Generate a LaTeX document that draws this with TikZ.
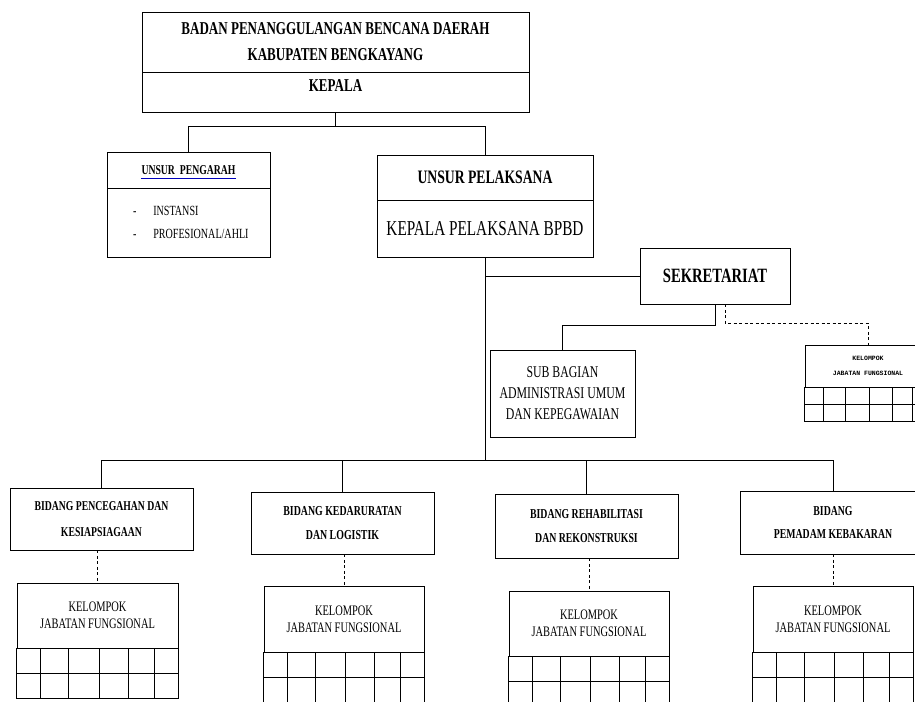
\documentclass[tikz,border=0pt]{standalone}
\usepackage{fontspec}
\setmainfont{Liberation Serif}[FakeStretch=0.72]
\newfontfamily\monofont{Liberation Mono}
\usetikzlibrary{calc}

\tikzset{
  box/.style={draw, line width=0.8pt, inner sep=0pt, align=center},
  link/.style={line width=0.8pt},
  dashlink/.style={line width=0.8pt, dash pattern=on 3pt off 2.5pt},
  gridline/.style={line width=0.8pt}
}

\begin{document}
\begin{tikzpicture}[x=1pt,y=-1pt]
  \useasboundingbox (0,0) rectangle (915,701);

  % kepala
  \node[box, minimum width=387pt, minimum height=60pt, font=\bfseries\fontsize{18.1}{26}\selectfont] (badan) at (335.5,42) {BADAN PENANGGULANGAN BENCANA DAERAH\\KABUPATEN BENGKAYANG};
  \node[box, minimum width=387pt, minimum height=40pt, text depth=12pt, font=\bfseries\fontsize{18.1}{26}\selectfont] (kepala) at (335.5,92) {KEPALA};

  % unsur pengarah
  \node[box, minimum width=163pt, minimum height=36pt] (pengarah) at (188.5,170) {};
  \node[inner sep=0pt, font=\bfseries\fontsize{13.5}{16}\selectfont] (pengtxt) at (pengarah.center) {UNSUR\ \ PENGARAH};
  \draw[blue!75!black, line width=0.9pt] ($(pengtxt.base west)+(0,4)$) -- ($(pengtxt.base east)+(0,4)$);
  \node[box, minimum width=163pt, minimum height=69pt, text width=140pt, align=left, font=\fontsize{14}{23}\selectfont] (ahli) at (188.5,222.5) {\hspace*{14.5pt}-\hspace{17pt}INSTANSI\\\hspace*{14.5pt}-\hspace{17pt}PROFESIONAL/AHLI};

  % unsur pelaksana
  \node[box, minimum width=216pt, minimum height=45pt, font=\bfseries\fontsize{19}{22}\selectfont] (pelaksana) at (485,177.5) {UNSUR PELAKSANA};
  \node[box, minimum width=216pt, minimum height=57pt, font=\fontsize{21.2}{22}\selectfont] (kplaksana) at (485,228.5) {KEPALA PELAKSANA BPBD};

  % sekretariat
  \node[box, minimum width=150pt, minimum height=56pt, font=\bfseries\fontsize{20.3}{22}\selectfont] (sekret) at (715,276) {SEKRETARIAT};
  \node[box, minimum width=145pt, minimum height=87pt, font=\fontsize{16.4}{21}\selectfont] (subbag) at (562.5,393.5) {SUB BAGIAN\\ADMINISTRASI UMUM\\DAN KEPEGAWAIAN};
  \node[box, minimum width=126pt, minimum height=42pt, font=\monofont\bfseries\fontsize{6.5}{15}\selectfont] (kelsek) at (868,366) {KELOMPOK\\JABATAN FUNGSIONAL};

  % bidang
  \node[box, minimum width=183pt, minimum height=62pt, font=\bfseries\fontsize{13.5}{26}\selectfont] (bid1) at (101.5,519) {BIDANG PENCEGAHAN DAN\\KESIAPSIAGAAN};
  \node[box, minimum width=183pt, minimum height=62pt, font=\bfseries\fontsize{13.7}{24}\selectfont] (bid2) at (342.5,523) {BIDANG KEDARURATAN\\DAN LOGISTIK};
  \node[box, minimum width=183pt, minimum height=64pt, font=\bfseries\fontsize{13.6}{24}\selectfont] (bid3) at (586.5,526) {BIDANG REHABILITASI\\DAN REKONSTRUKSI};
  \node[box, minimum width=186pt, minimum height=63pt, font=\bfseries\fontsize{13.6}{23}\selectfont] (bid4) at (833,522.5) {BIDANG\\PEMADAM KEBAKARAN};

  % kelompok jabatan fungsional
  \node[box, minimum width=161pt, minimum height=65pt, font=\fontsize{14.5}{17}\selectfont] (kel1) at (97.5,615.5) {KELOMPOK\\JABATAN FUNGSIONAL};
  \node[box, minimum width=160pt, minimum height=66pt, font=\fontsize{14.5}{17}\selectfont] (kel2) at (344,619) {KELOMPOK\\JABATAN FUNGSIONAL};
  \node[box, minimum width=160pt, minimum height=65pt, font=\fontsize{14.5}{17}\selectfont] (kel3) at (589,623.5) {KELOMPOK\\JABATAN FUNGSIONAL};
  \node[box, minimum width=160pt, minimum height=66pt, font=\fontsize{14.5}{17}\selectfont] (kel4) at (833,619) {KELOMPOK\\JABATAN FUNGSIONAL};

  % tabel di bawah kelompok
  \foreach \k/\h in {kel1/25,kel2/25,kel3/25,kel4/25,kelsek/17} {
    \draw[gridline] (\k.south west) -- ($(\k.south west)+(0,2*\h)$) -- ($(\k.south east)+(0,2*\h)$) -- (\k.south east);
    \draw[gridline] ($(\k.south west)+(0,\h)$) -- ($(\k.south east)+(0,\h)$);
    \foreach \f in {0.145,0.32,0.51,0.69,0.85}
      \draw[gridline] ($(\k.south west)!\f!(\k.south east)$) -- ++(0,2*\h);
  }

  % garis
  \coordinate (bus) at (485,460);
  \draw[link] (kepala.south) -- ++(0,14) -| (pengarah.north);
  \draw[link] (kepala.south) -- ++(0,14) -| (pelaksana.north);
  \draw[link] (kplaksana.south) -- (bus);
  \draw[link] (kplaksana.south |- sekret.west) -- (sekret.west);
  \draw[link] (sekret.south) -- ++(0,21) -| (subbag.north);
  \draw[dashlink] ($(sekret.south)+(10,0)$) -- ++(0,19) -| (kelsek.north);
  \draw[link] (bid1.north |- bus) -- (bid4.north |- bus);
  \foreach \b in {bid1,bid2,bid3,bid4}
    \draw[link] (\b.north |- bus) -- (\b.north);
  \foreach \b/\k in {bid1/kel1,bid2/kel2,bid3/kel3,bid4/kel4}
    \draw[dashlink] (\k.north |- \b.south) -- (\k.north);
\end{tikzpicture}
\end{document}
